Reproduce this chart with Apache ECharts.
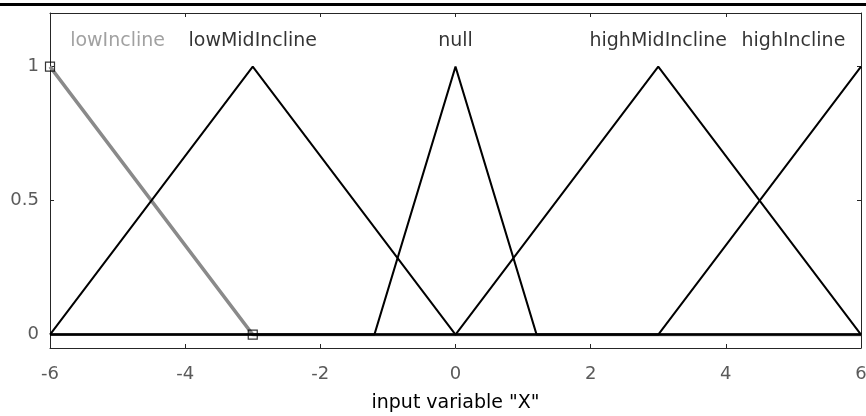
<!DOCTYPE html>
<html><head><meta charset="utf-8">
<script src="https://cdn.jsdelivr.net/npm/echarts@6/dist/echarts.min.js"></script>
<style>html,body{margin:0;padding:0;background:#fff}#c{width:866px;height:416px}</style>
</head><body><div id="c"></div>
<script>
// Membership functions of input variable "X"
const mfNames = ['lowIncline', 'lowMidIncline', 'null', 'highMidIncline', 'highIncline'];
const lowIncline = [[-6, 1], [-3, 0], [6, 0]];
const lowMidIncline = [[-6, 0], [-3, 1], [0, 0], [6, 0]];
const nullMF = [[-6, 0], [-1.2, 0], [0, 1], [1.2, 0], [6, 0]];
const highMidIncline = [[-6, 0], [0, 0], [3, 1], [6, 0]];
const highIncline = [[-6, 0], [3, 0], [6, 1]];
const selectedMarkers = [[-6, 1], [-3, 0]];
const labelX = [-5, -3, 0, 3, 5];
const labelY = 1.095;
const yTicks = [0, 0.5, 1];

const font = '"DejaVu Sans", Verdana, sans-serif';
const chart = echarts.init(document.getElementById('c'), null, {renderer: 'canvas'});

function blackLine(data) {
  return {type: 'line', data: data, symbol: 'none', z: 3,
    lineStyle: {color: '#000', width: 2}};
}

const axisLineStyle = {color: '#262626', width: 1};
const option = {
  animation: false,
  grid: {left: 50, right: 5, top: 13, bottom: 68, containLabel: false, outerBoundsMode: 'none'},
  graphic: [{type: 'rect', left: 0, top: 3, shape: {width: 866, height: 3}, style: {fill: '#000'}}],
  xAxis: [{
    type: 'value', min: -6, max: 6, interval: 2, position: 'bottom',
    axisLine: {show: true, onZero: false, lineStyle: axisLineStyle},
    axisTick: {show: true, inside: true, length: 4, lineStyle: axisLineStyle},
    axisLabel: {color: '#5a5a5a', fontSize: 18, fontFamily: font, margin: 17},
    splitLine: {show: false},
    name: 'input variable "X"', nameLocation: 'middle', nameGap: 46,
    nameTextStyle: {color: '#000', fontSize: 19, fontFamily: font}
  }, {
    type: 'value', min: -6, max: 6, interval: 2, position: 'top',
    axisLine: {show: true, onZero: false, lineStyle: axisLineStyle},
    axisTick: {show: true, inside: true, length: 4, lineStyle: axisLineStyle},
    axisLabel: {show: false}, splitLine: {show: false}
  }],
  yAxis: [{
    type: 'value', min: -0.05, max: 1.2, position: 'left',
    axisLine: {show: true, onZero: false, lineStyle: axisLineStyle},
    axisTick: {show: true, inside: true, length: 4, lineStyle: axisLineStyle, customValues: yTicks},
    axisLabel: {color: '#5a5a5a', fontSize: 18, fontFamily: font, margin: 11, customValues: yTicks},
    splitLine: {show: false}
  }, {
    type: 'value', min: -0.05, max: 1.2, position: 'right',
    axisLine: {show: true, onZero: false, lineStyle: axisLineStyle},
    axisTick: {show: true, inside: true, length: 4, lineStyle: axisLineStyle, customValues: yTicks},
    axisLabel: {show: false}, splitLine: {show: false}
  }],
  series: [
    {type: 'line', data: lowIncline, symbol: 'none', z: 2,
      lineStyle: {color: '#8a8a8a', width: 3.4}},
    blackLine(lowMidIncline),
    blackLine(nullMF),
    blackLine(highMidIncline),
    blackLine(highIncline),
    {type: 'scatter', data: selectedMarkers, symbol: 'rect', symbolSize: 9, z: 4,
      itemStyle: {color: 'rgba(255,255,255,0)', borderColor: '#000', borderWidth: 1.2}},
    {type: 'scatter', symbolSize: 0, z: 5,
      data: mfNames.map((n, i) => ({
        value: [labelX[i], labelY], name: n,
        label: {show: true, position: 'inside', formatter: n, fontSize: 19, fontFamily: font,
          color: i === 0 ? '#8a8a8a' : '#000'}
      }))}
  ]
};
chart.setOption(option);
</script></body></html>
